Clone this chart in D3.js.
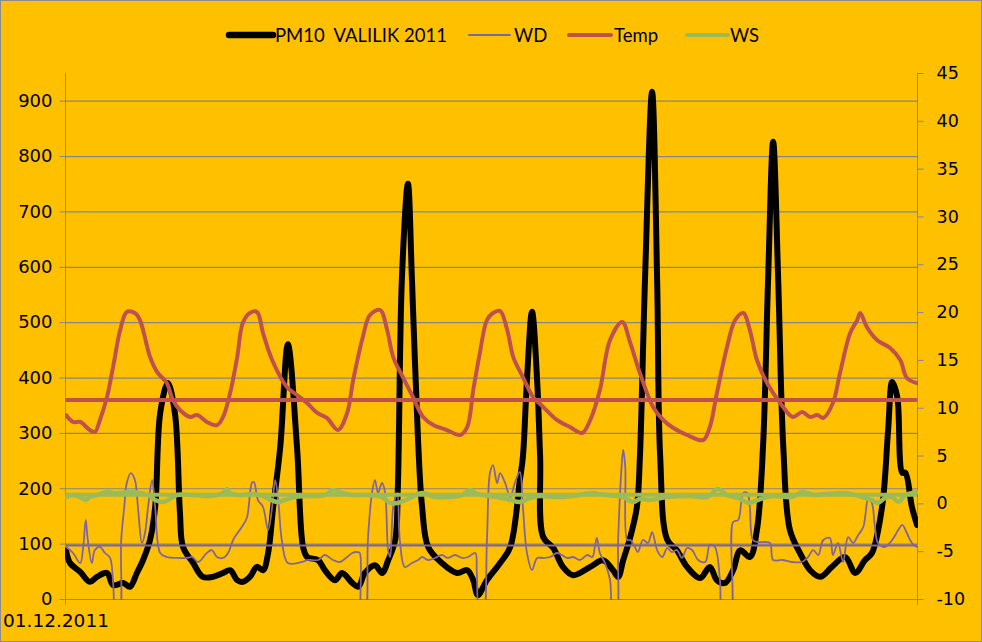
<!DOCTYPE html>
<html><head><meta charset="utf-8">
<script src="https://cdn.jsdelivr.net/npm/d3@7"></script>
<style>html,body{margin:0;padding:0;background:#FFC000;}svg{display:block;}</style>
</head><body><svg id="c" width="982" height="642"></svg>
<script>
// ---- DATA (hours since 01.12.2011 00:00) ----
const startLabel = "01.12.2011";
const seriesNames = ["PM10  VALILIK 2011", "WD", "Temp", "WS"];
const leftTicks = [0,100,200,300,400,500,600,700,800,900];
const rightTicks = [-10,-5,0,5,10,15,20,25,30,35,40,45];

const pmHours = [0,0.8,2.8,4.7,6.1,8.1,9.3,11.3,12.6,14.0,15.2,16.6,17.6,18.6,20.1,21.5,22.5,23.1,25.1,27.0,29.0,31.0,32.4,33.8,34.9,36.3,37.7,38.9,39.9,40.9,42.3,43.8,45.6,46.8,47.6,49.8,51.1,53.1,54.5,56.5,57.7,59.0,61.0,62.4,63.6,65.0,65.5,66.3,67.5,68.3,69.5,70.3,71.5,74.2,77.2,79.2,80.4,81.3,83.1,85.7,87.7,89.6,90.2,91.0,92.0,93.0,93.6,94.2,96.2,98.1,100.1,103.5,106.0,108.0,109.0,110.0,111.4,112.7,113.3,114.3,115.7,116.7,117.3,118.7,120.6,122.6,125.2,127.1,128.5,130.1,131.7,133.1,135.0,136.4,137.6,138.6,139.6,140.6,141.6,142.9,144.9,146.9,148.9,151.2,153.8,155.8,157.7,159.1,161.1,162.3,163.1,164.1,165.1,165.7,167.0,168.0];
const pmValues = [88,65,49,31,40,47,25,29,22,47,70,107,166,336,390,336,155,94,65,40,40,47,52,34,31,40,58,52,83,166,275,460,275,94,76,70,52,34,47,29,22,47,61,47,70,107,197,576,750,576,287,166,94,65,47,52,34,7,34,65,94,215,257,396,519,396,257,112,92,58,43,58,70,52,40,70,112,166,257,576,916,576,257,107,88,58,38,58,34,29,52,88,76,125,275,576,826,576,275,125,83,52,40,58,76,47,70,83,166,305,392,365,228,228,166,134];

const wdHours = [0,1.4,2.8,3.4,3.9,4.3,5.1,5.7,6.7,7.7,8.7,9.3,9.9,10.5,10.9,11.5,12.0,12.8,13.6,14.2,15.0,15.6,16.2,17.0,17.6,18.6,19.9,21.9,23.9,24.9,26.1,27.8,28.8,29.8,31.0,32.0,33.0,34.7,35.7,36.7,37.1,37.9,38.9,39.9,40.7,41.3,41.9,42.6,43.8,46.6,47.8,49.8,51.1,52.7,54.1,55.5,56.5,57.5,58.0,58.4,59.0,59.6,60.4,61.0,61.6,62.4,63.0,63.6,64.0,64.6,65.4,65.9,66.9,68.3,69.5,70.3,71.5,72.9,74.2,75.4,76.8,78.2,79.4,80.8,81.1,81.7,82.3,83.1,83.7,84.3,85.1,85.7,86.7,87.7,88.6,89.6,90.2,91.0,92.0,93.0,94.2,95.6,96.9,97.9,98.9,100.1,101.5,102.9,103.9,104.4,104.8,105.4,106.4,107.4,108.0,108.6,109.0,109.6,110.0,110.4,110.8,111.4,112.3,112.9,113.9,114.9,115.7,116.7,117.7,118.7,119.6,120.6,121.6,122.6,123.6,124.8,126.2,127.1,128.1,129.1,129.7,131.1,131.7,132.7,133.7,134.5,135.0,135.6,136.6,138.0,139.0,139.6,141.4,143.3,145.3,146.5,147.5,148.5,149.5,150.8,151.4,152.4,153.4,154.4,155.4,156.4,157.4,158.4,159.1,159.7,160.3,161.7,163.1,164.3,165.1,166.0,167.0,168.0];
const wdValues = [-4.56,-5.19,-6.24,-4.56,-1.74,-3.83,-6.24,-4.88,-4.56,-5.19,-5.71,-8.33,-12,-12,-3.83,-0.38,2.13,3.17,2.44,-0.38,-4.14,-3.10,-0.38,2.44,-0.38,-5.19,-5.61,-5.71,-5.71,-5.61,-6.13,-5.19,-4.88,-5.61,-5.71,-5.19,-3.83,-2.47,-1.53,2.13,2.23,0.35,-0.38,-2.79,-0.38,2.44,0.35,-3.83,-6.24,-6.13,-5.92,-5.92,-5.40,-5.92,-6.13,-5.61,-5.19,-5.09,-5.19,-12,-12,-3.83,1.08,2.44,1.08,2.13,1.08,-4.88,-5.61,-0.38,1.08,-3.83,-6.65,-6.24,-5.92,-5.61,-5.92,-5.71,-5.40,-5.71,-5.40,-5.71,-5.61,-5.19,-7.28,-12,-12,-3.83,3.17,4.0,2.13,3.17,2.13,0.66,2.13,3.28,-0.38,-5.19,-6.97,-5.71,-5.71,-5.61,-5.19,-5.40,-5.71,-5.61,-5.92,-5.40,-5.61,-4.56,-3.62,-5.19,-6.24,-8.01,-12,-12,-3.83,3.17,5.58,3.80,-3.83,-3.83,-4.56,-5.09,-3.83,-4.14,-3.0,-4.88,-5.61,-4.67,-5.09,-4.88,-5.71,-4.67,-4.88,-5.92,-6.13,-4.35,-4.56,-8.01,-12,-12,-1.95,-1.74,1.08,1.08,-0.38,-3.83,-4.04,-4.04,-4.14,-5.92,-5.92,-6.13,-6.13,-5.61,-4.88,-5.40,-3.83,-3.62,-5.40,-4.14,-6.13,-3.52,-4.14,-3.31,-2.47,0.56,0.04,-2.47,-4.14,-4.56,-3.83,-2.79,-2.26,-3.10,-4.14,-4.56];

const tempHours = [0,1.4,2.8,4.7,5.7,6.7,8.1,9.3,10.7,12.0,13.6,14.6,16.6,18.0,19.9,21.1,22.5,24.5,25.9,27.8,29.8,31.0,32.4,33.8,34.9,36.3,37.7,38.9,40.7,43.6,45.6,47.6,49.6,51.5,53.7,55.5,56.7,58.6,60.0,62.0,63.4,64.6,66.5,68.5,70.5,72.5,75.2,77.8,79.2,80.4,81.7,83.1,84.3,85.7,87.1,88.3,90.2,92.2,94.2,96.9,99.5,101.9,103.5,105.4,107.4,109.8,111.4,113.3,115.9,117.9,119.9,122.6,125.8,127.1,128.5,130.5,132.1,133.7,135.0,136.4,138.4,141.0,143.5,145.3,146.9,148.3,149.5,151.4,152.8,154.8,156.2,156.8,158.1,160.1,162.7,164.7,166.0,168.0];
const tempValues = [9.24,8.51,8.51,7.67,7.46,8.72,11.12,14.26,18.13,20.01,19.90,19.17,15.30,13.73,12.58,10.81,9.76,9.03,9.24,8.51,8.19,9.03,11.54,15.30,18.86,19.90,20.01,17.81,14.99,12.17,11.33,10.49,9.45,8.93,7.67,9.45,12.90,17.39,19.69,20.22,18.13,15.30,13.21,11.12,9.03,8.19,7.67,7.15,7.98,11.85,15.72,19.17,19.90,20.11,18.13,15.30,13.21,11.12,10.08,8.72,7.98,7.36,8.72,11.85,17.08,18.96,16.77,13.63,10.08,8.72,7.88,7.15,6.62,7.98,11.54,16.35,19.17,19.90,18.13,14.99,12.58,10.49,9.03,9.55,9.03,9.24,8.93,10.49,13.63,17.81,19.17,19.90,18.44,17.08,16.24,14.99,13.11,12.58];

const wsHours = [0,1.4,2.8,3.8,4.7,6.1,8.1,9.3,10.7,12.6,14.6,16.2,17.6,19.2,20.5,21.9,25.1,28.4,31.0,31.8,32.4,34.4,36.9,38.9,40.9,41.9,43.2,45.2,47.8,51.1,52.7,54.5,56.5,59.6,62.4,64.0,65.5,67.5,70.3,72.9,75.4,78.2,79.8,80.8,83.3,85.1,87.7,89.6,91.6,93.6,96.9,100.1,103.5,106.8,110.0,111.9,113.3,115.3,118.7,123.2,126.6,128.7,130.5,132.7,134.7,136.6,139.4,143.3,145.3,147.9,149.9,153.8,157.2,159.1,160.3,161.7,163.1,164.3,165.7,167.0,168.0];
const wsValues = [0.66,0.87,0.66,0.35,0.66,0.87,1.19,1.08,1.08,1.19,1.08,0.87,0.35,0.14,0.46,0.87,0.87,0.77,1.08,1.50,1.08,0.87,0.98,0.77,0.25,0.14,0.35,0.66,0.77,0.87,1.40,1.08,0.87,0.87,0.66,0.04,0.04,0.46,1.08,0.66,0.66,0.87,1.40,1.08,0.77,0.66,0.35,0.14,0.56,0.77,0.66,0.77,1.08,0.87,0.66,0.14,0.46,0.35,0.66,0.77,0.66,1.50,0.87,0.56,0.04,0.35,0.77,0.66,1.19,0.87,0.98,1.08,0.66,0.35,0.04,0.56,0.66,0.14,0.87,1.08,1.19];

// constant reference levels drawn in each series' colour
const tempLevel = 10.8;
const wdLevel = -4.4;
const wsLevel = 0.9;

// ---- STYLE ----
const colors = {pm:"#000000", wd:"#8064A2", temp:"#C0504D", ws:"#9BBB59"};
const W = 982, H = 642;
const plot = {left:66, right:917, top:73, bottom:599};

const svg = d3.select("#c");
svg.append("rect").attr("x",0.5).attr("y",0.5).attr("width",W-1).attr("height",H-1)
  .attr("fill","#FFC000").attr("stroke","#8c8c8c");

const x = d3.scaleLinear().domain([0,168]).range([plot.left, plot.right]);
const yL = d3.scaleLinear().domain([0,950]).range([plot.bottom, plot.top]);
const yR = d3.scaleLinear().domain([-10,45]).range([plot.bottom, plot.top]);

svg.append("defs").append("clipPath").attr("id","clip").append("rect")
  .attr("x",plot.left-1).attr("y",plot.top).attr("width",plot.right-plot.left+2).attr("height",plot.bottom-plot.top+1);

// gridlines
svg.append("g").selectAll("line").data(leftTicks.filter(d=>d>0)).join("line")
  .attr("x1",plot.left).attr("x2",plot.right)
  .attr("y1",d=>yL(d)+0.5).attr("y2",d=>yL(d)+0.5)
  .attr("stroke","#868686").attr("stroke-width",1.2);

// left axis
const gL = svg.append("g").attr("transform",`translate(${plot.left-0.5},0)`)
  .call(d3.axisLeft(yL).tickValues(leftTicks).tickSize(6).tickPadding(7).tickFormat(d3.format("d")));
gL.select(".domain").attr("d",`M0,${plot.top}V${plot.bottom+6}`).attr("stroke","#868686");
gL.selectAll(".tick line").attr("stroke","#868686");
gL.selectAll("text").attr("font-family","DejaVu Sans").attr("font-size",18).attr("fill","#000");

// right axis
const gR = svg.append("g").attr("transform",`translate(${plot.right+0.5},0)`)
  .call(d3.axisRight(yR).tickValues(rightTicks).tickSize(6).tickPadding(13).tickFormat(d3.format("d")));
gR.select(".domain").attr("d",`M0,${plot.top}V${plot.bottom+6}`).attr("stroke","#8080b0");
gR.selectAll(".tick line").attr("stroke","#8080b0");
gR.selectAll("text").attr("font-family","DejaVu Sans").attr("font-size",17.5).attr("fill","#000")
  .text(d=>d<0?"-"+Math.abs(d):d);

// bottom axis
svg.append("line").attr("x1",plot.left).attr("x2",plot.right).attr("y1",plot.bottom+0.5).attr("y2",plot.bottom+0.5)
  .attr("stroke","#8080a8").attr("stroke-width",1.2);
svg.append("text").attr("x",3).attr("y",627).attr("font-family","DejaVu Sans").attr("font-size",18.5)
  .attr("fill","#000").text(startLabel);

// series
const g = svg.append("g").attr("clip-path","url(#clip)");
function draw(hours, values, yScale, color, width){
  const pts = hours.map((h,i)=>[h, values[i]]);
  g.append("path").datum(pts)
    .attr("d", d3.line().x(d=>x(d[0])).y(d=>yScale(d[1])).curve(d3.curveCatmullRom.alpha(0.5)))
    .attr("fill","none").attr("stroke",color).attr("stroke-width",width)
    .attr("stroke-linejoin","round").attr("stroke-linecap","round");
}
function level(v, yScale, color, width){
  g.append("line").attr("x1",x(0)).attr("x2",x(168)).attr("y1",yScale(v)).attr("y2",yScale(v))
    .attr("stroke",color).attr("stroke-width",width);
}
draw(pmHours, pmValues, yL, colors.pm, 6);
level(wdLevel, yR, colors.wd, 2);
draw(wdHours, wdValues, yR, colors.wd, 1.8);
level(tempLevel, yR, colors.temp, 4);
draw(tempHours, tempValues, yR, colors.temp, 4);
level(wsLevel, yR, colors.ws, 4);
draw(wsHours, wsValues, yR, colors.ws, 4.5);

// legend
const legend = [
  {name:seriesNames[0], color:colors.pm, w:6.5, x1:229, x2:273, tx:275},
  {name:seriesNames[1], color:colors.wd, w:2, x1:469, x2:510, tx:514},
  {name:seriesNames[2], color:colors.temp, w:4, x1:569, x2:611, tx:614},
  {name:seriesNames[3], color:colors.ws, w:4, x1:687, x2:728, tx:730}
];
const lg = svg.append("g");
legend.forEach(l=>{
  lg.append("line").attr("x1",l.x1).attr("x2",l.x2).attr("y1",35).attr("y2",35)
    .attr("stroke",l.color).attr("stroke-width",l.w).attr("stroke-linecap","round");
  lg.append("text").attr("x",l.tx).attr("y",41.5).attr("font-family","Lato").attr("font-size",18.5)
    .attr("fill","#000").attr("xml:space","preserve").style("white-space","pre").text(l.name);
});
</script></body></html>
